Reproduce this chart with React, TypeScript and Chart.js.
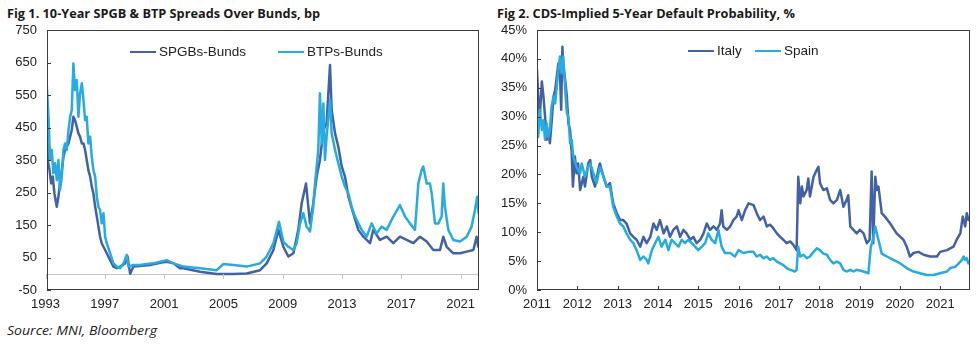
import React, { useEffect, useLayoutEffect, useRef } from "react";
import { Chart, registerables } from "chart.js";

Chart.register(...registerables);

const DARK = "#4262A8";
const LIGHT = "#26ABE2";

// ---------- Fig 1: 10-Year spreads over Bunds, bp ----------
const fig1XTicks = [1993, 1997, 2001, 2005, 2009, 2013, 2017, 2021];
const fig1YTicks = [-50, 50, 150, 250, 350, 450, 550, 650, 750];

const spgbYears = [
  1993.09, 1993.15, 1993.27, 1993.38, 1993.49, 1993.6, 1993.76, 1993.87, 1993.98, 1994.1,
  1994.21, 1994.32, 1994.43, 1994.55, 1994.66, 1994.77, 1994.88, 1994.99, 1995.11, 1995.22,
  1995.33, 1995.45, 1995.56, 1995.67, 1995.78, 1995.89, 1996.01, 1996.12, 1996.23, 1996.35,
  1996.46, 1996.57, 1996.68, 1996.79, 1996.91, 1997.13, 1997.36, 1997.58, 1997.81, 1998.03,
  1998.37, 1998.53, 1998.71, 1998.93, 1999.38, 2000.05, 2000.73, 2001.18, 2001.63, 2002.07,
  2002.3, 2003.43, 2004.55, 2005.67, 2006.57, 2007.47, 2007.92, 2008.37, 2008.71, 2009.04,
  2009.38, 2009.72, 2010.05, 2010.28, 2010.57, 2010.84, 2011.06, 2011.29, 2011.51, 2011.74,
  2011.96, 2012.19, 2012.3, 2012.53, 2012.75, 2012.98, 2013.2, 2013.43, 2013.76, 2014.1,
  2014.44, 2014.89, 2015.11, 2015.56, 2016.01, 2016.46, 2016.91, 2017.36, 2017.81, 2018.26,
  2018.71, 2019.16, 2019.61, 2019.83, 2020.06, 2020.51, 2020.96, 2021.41, 2021.86, 2022.08,
  2022.19,
];
const spgbValues = [
  535, 350, 319, 278, 299, 247, 206, 237, 278, 319,
  360, 381, 391, 401, 422, 442, 483, 473, 452, 432,
  422, 401, 401, 381, 350, 319, 299, 268, 247, 206,
  176, 145, 114, 94, 83, 63, 42, 22, 17, 22,
  32, 53, 0, 22, 24, 27, 34, 37, 32, 17,
  17, 6, -1, -1, 1, 11, 32, 73, 135, 83,
  53, 63, 135, 217, 278, 155, 217, 299, 350, 442,
  463, 642, 504, 432, 391, 330, 299, 237, 186, 135,
  114, 94, 135, 104, 114, 94, 114, 104, 94, 114,
  99, 73, 73, 114, 83, 63, 63, 68, 73, 114,
  83,
];

const btpYears = [
  1993.09, 1993.2, 1993.31, 1993.42, 1993.53, 1993.65, 1993.76, 1993.87, 1993.98, 1994.1,
  1994.21, 1994.32, 1994.43, 1994.55, 1994.66, 1994.77, 1994.88, 1994.99, 1995.11, 1995.22,
  1995.33, 1995.45, 1995.56, 1995.67, 1995.78, 1995.89, 1996.01, 1996.12, 1996.23, 1996.35,
  1996.46, 1996.57, 1996.68, 1996.79, 1996.91, 1997.02, 1997.13, 1997.36, 1997.58, 1997.81,
  1998.03, 1998.26, 1998.48, 1998.59, 1998.93, 1999.38, 1999.83, 2000.28, 2000.73, 2001.18,
  2001.63, 2002.3, 2003.43, 2004.55, 2005.0, 2005.67, 2006.57, 2007.47, 2007.92, 2008.37,
  2008.75, 2009.04, 2009.38, 2009.72, 2009.94, 2010.17, 2010.39, 2010.61, 2010.84, 2011.06,
  2011.18, 2011.4, 2011.51, 2011.63, 2011.74, 2011.85, 2011.96, 2012.08, 2012.19, 2012.3,
  2012.53, 2012.75, 2012.98, 2013.2, 2013.43, 2013.65, 2013.88, 2014.1, 2014.33, 2014.66,
  2015.0, 2015.33, 2015.67, 2016.01, 2016.23, 2016.46, 2016.91, 2017.25, 2017.58, 2017.92,
  2018.15, 2018.37, 2018.48, 2018.71, 2018.93, 2019.05, 2019.27, 2019.5, 2019.72, 2019.83,
  2019.94, 2020.17, 2020.51, 2020.96, 2021.41, 2021.74, 2021.97, 2022.12, 2022.21,
];
const btpValues = [
  576, 483, 350, 381, 309, 340, 288, 350, 258, 299,
  381, 401, 381, 442, 483, 504, 647, 565, 596, 483,
  555, 586, 535, 473, 483, 401, 422, 360, 319, 299,
  237, 206, 196, 155, 186, 114, 94, 63, 32, 22,
  17, 32, 58, 22, 27, 27, 30, 32, 37, 42,
  32, 22, 17, 11, 30, 27, 22, 32, 53, 94,
  160, 99, 83, 73, 94, 155, 186, 145, 130, 206,
  278, 381, 555, 401, 524, 350, 422, 480, 535, 432,
  381, 340, 299, 268, 247, 206, 176, 155, 135, 114,
  155, 124, 145, 135, 155, 176, 211, 176, 155, 135,
  278, 319, 330, 278, 278, 247, 155, 155, 176, 278,
  206, 135, 104, 99, 114, 145, 196, 237, 186,
];

// ---------- Fig 2: CDS-implied 5-year default probability, % ----------
const fig2XTicks = [2011, 2012, 2013, 2014, 2015, 2016, 2017, 2018, 2019, 2020, 2021];
const fig2YTicks = [0, 5, 10, 15, 20, 25, 30, 35, 40, 45];

const italyYears = [
  2011.0, 2011.03, 2011.07, 2011.12, 2011.16, 2011.2, 2011.24, 2011.28, 2011.32, 2011.36,
  2011.41, 2011.45, 2011.49, 2011.53, 2011.57, 2011.6, 2011.63, 2011.65, 2011.69, 2011.74,
  2011.78, 2011.82, 2011.86, 2011.89, 2011.94, 2011.98, 2012.02, 2012.07, 2012.15, 2012.19,
  2012.27, 2012.32, 2012.36, 2012.44, 2012.52, 2012.56, 2012.65, 2012.73, 2012.81, 2012.89,
  2012.98, 2013.06, 2013.14, 2013.22, 2013.31, 2013.39, 2013.47, 2013.56, 2013.64, 2013.72,
  2013.81, 2013.89, 2013.97, 2014.05, 2014.14, 2014.22, 2014.3, 2014.38, 2014.47, 2014.55,
  2014.63, 2014.71, 2014.8, 2014.88, 2014.96, 2015.05, 2015.13, 2015.21, 2015.29, 2015.38,
  2015.46, 2015.54, 2015.58, 2015.62, 2015.71, 2015.79, 2015.87, 2015.95, 2016.0, 2016.08,
  2016.16, 2016.25, 2016.37, 2016.45, 2016.53, 2016.62, 2016.7, 2016.78, 2016.86, 2016.95,
  2017.03, 2017.11, 2017.19, 2017.28, 2017.36, 2017.44, 2017.48, 2017.53, 2017.57, 2017.61,
  2017.69, 2017.73, 2017.77, 2017.86, 2017.94, 2017.98, 2018.02, 2018.1, 2018.19, 2018.27,
  2018.35, 2018.44, 2018.52, 2018.6, 2018.68, 2018.72, 2018.77, 2018.85, 2018.93, 2019.01,
  2019.1, 2019.18, 2019.25, 2019.3, 2019.34, 2019.39, 2019.43, 2019.47, 2019.51, 2019.55,
  2019.63, 2019.76, 2019.92, 2020.09, 2020.17, 2020.25, 2020.34, 2020.46, 2020.59, 2020.75,
  2020.92, 2021.0, 2021.17, 2021.33, 2021.41, 2021.5, 2021.56, 2021.62, 2021.66, 2021.7,
];
const italyValues = [
  38.1, 33.5, 30.0, 36.1, 33.5, 30.0, 26.0, 27.7, 25.4, 28.8,
  33.5, 34.6, 36.9, 39.2, 37.5, 31.2, 42.1, 39.2, 36.9, 33.5,
  28.8, 27.7, 23.7, 17.9, 23.1, 20.2, 21.9, 17.3, 19.6, 17.9,
  21.9, 22.5, 19.6, 17.9, 20.8, 21.9, 19.6, 17.9, 18.5, 15.0,
  13.3, 12.1, 12.1, 11.5, 9.8, 9.2, 8.7, 7.5, 9.2, 8.1,
  9.2, 11.5, 10.4, 12.1, 9.8, 11.0, 9.2, 10.4, 11.0, 9.2,
  10.4, 9.8, 8.7, 9.2, 8.1, 8.7, 9.8, 11.5, 10.4, 11.0,
  10.4, 11.5, 13.8, 11.0, 10.4, 11.0, 12.1, 12.7, 13.8, 12.1,
  13.8, 15.0, 14.7, 13.3, 12.1, 12.7, 11.0, 11.3, 10.7, 9.8,
  9.2, 8.7, 8.1, 8.4, 7.8, 6.9, 19.6, 15.0, 17.9, 16.2,
  17.3, 19.3, 16.2, 19.6, 20.8, 21.3, 18.5, 17.3, 17.6, 15.6,
  15.0, 15.6, 17.3, 14.4, 15.6, 16.4, 11.0, 10.4, 9.8, 10.4,
  9.8, 8.1, 8.7, 20.5, 8.1, 19.6, 17.3, 17.9, 15.6, 13.3,
  12.7, 11.5, 9.8, 8.7, 7.5, 5.8, 6.4, 6.6, 6.1, 5.8,
  5.8, 6.6, 6.9, 7.5, 8.7, 9.8, 12.7, 11.0, 13.3, 12.1,
];

const spainYears = [
  2011.0, 2011.03, 2011.07, 2011.12, 2011.16, 2011.2, 2011.24, 2011.28, 2011.32, 2011.36,
  2011.41, 2011.45, 2011.49, 2011.53, 2011.57, 2011.61, 2011.65, 2011.69, 2011.74, 2011.78,
  2011.82, 2011.86, 2011.9, 2011.98, 2012.07, 2012.11, 2012.19, 2012.27, 2012.32, 2012.4,
  2012.48, 2012.56, 2012.65, 2012.73, 2012.81, 2012.89, 2012.98, 2013.06, 2013.14, 2013.22,
  2013.31, 2013.39, 2013.47, 2013.56, 2013.64, 2013.72, 2013.76, 2013.85, 2013.93, 2014.01,
  2014.09, 2014.18, 2014.26, 2014.34, 2014.42, 2014.51, 2014.59, 2014.67, 2014.75, 2014.84,
  2014.92, 2015.0, 2015.09, 2015.17, 2015.25, 2015.33, 2015.42, 2015.5, 2015.58, 2015.66,
  2015.79, 2015.91, 2016.0, 2016.12, 2016.25, 2016.37, 2016.45, 2016.53, 2016.62, 2016.7,
  2016.78, 2016.86, 2016.95, 2017.03, 2017.11, 2017.19, 2017.28, 2017.4, 2017.44, 2017.48,
  2017.53, 2017.61, 2017.69, 2017.77, 2017.86, 2017.94, 2018.02, 2018.1, 2018.19, 2018.27,
  2018.35, 2018.44, 2018.52, 2018.6, 2018.68, 2018.77, 2018.85, 2018.93, 2019.1, 2019.22,
  2019.28, 2019.33, 2019.39, 2019.43, 2019.51, 2019.55, 2019.68, 2019.84, 2020.01, 2020.17,
  2020.34, 2020.5, 2020.67, 2020.83, 2021.0, 2021.17, 2021.25, 2021.37, 2021.46, 2021.54,
  2021.58, 2021.62, 2021.66, 2021.7,
];
const spainValues = [
  28.8, 26.5, 31.2, 27.7, 29.4, 26.0, 28.8, 26.5, 27.7, 31.7,
  33.5, 32.3, 35.2, 38.1, 40.4, 37.5, 40.4, 35.8, 30.6, 30.0,
  25.4, 26.0, 23.1, 21.3, 20.2, 21.9, 19.6, 21.3, 21.9, 20.2,
  18.5, 21.3, 19.6, 17.9, 17.9, 14.4, 12.7, 11.5, 11.0, 9.8,
  8.7, 8.1, 6.9, 5.2, 5.8, 5.2, 4.6, 6.9, 8.1, 9.2,
  7.5, 8.7, 6.9, 8.7, 8.1, 7.5, 8.7, 8.1, 8.7, 8.1,
  7.5, 6.9, 7.5, 8.1, 9.8, 8.7, 8.1, 10.4, 7.5, 6.4,
  6.4, 5.8, 6.9, 6.4, 6.6, 6.6, 5.8, 6.1, 5.5, 5.8,
  5.2, 5.5, 4.9, 4.6, 4.3, 3.8, 3.5, 3.2, 3.5, 7.5,
  5.8, 6.1, 5.5, 5.8, 6.6, 7.2, 6.9, 6.3, 6.1, 5.2,
  4.6, 4.9, 4.6, 3.5, 3.2, 3.5, 3.2, 3.5, 3.2, 2.9,
  7.5, 8.7, 11.0, 9.8, 7.5, 6.3, 5.8, 5.2, 4.6, 3.8,
  3.2, 2.9, 2.6, 2.6, 2.9, 3.2, 3.8, 4.0, 4.6, 5.2,
  5.8, 5.2, 5.5, 4.6,
];

const TICK_FONT = { family: "'Liberation Sans', Arial, sans-serif", size: 13 };

function toPoints(xs: number[], ys: number[]) {
  return xs.map((x, i) => ({ x, y: ys[i] }));
}

function framePlugin(mode: "zero" | "bottom") {
  return {
    id: "frame",
    beforeDatasetsDraw(chart: any) {
      if (mode !== "zero") return;
      const { ctx, chartArea: a } = chart;
      const y = Math.round(chart.scales.y.getPixelForValue(0)) + 0.5;
      ctx.save();
      ctx.strokeStyle = "#C4C4C4";
      ctx.lineWidth = 1;
      ctx.beginPath();
      ctx.moveTo(a.left, y);
      ctx.lineTo(a.right, y);
      ctx.stroke();
      ctx.restore();
    },
    afterDraw(chart: any) {
      const { ctx, chartArea: a } = chart;
      const xs = chart.scales.x;
      const ys = chart.scales.y;
      ctx.save();
      ctx.strokeStyle = "#3C3C3C";
      ctx.lineWidth = 1;
      ctx.strokeRect(a.left + 0.5, a.top + 0.5, a.right - a.left - 1, a.bottom - a.top - 1);
      ctx.beginPath();
      ys.ticks.forEach((t: any) => {
        const py = Math.round(ys.getPixelForValue(t.value)) + 0.5;
        ctx.moveTo(a.left, py);
        ctx.lineTo(a.left + 4, py);
      });
      ctx.stroke();
      if (mode === "zero") {
        ctx.strokeStyle = "#C4C4C4";
        const base = Math.round(ys.getPixelForValue(0));
        ctx.beginPath();
        xs.ticks.forEach((t: any) => {
          const px = Math.round(xs.getPixelForValue(t.value)) + 0.5;
          ctx.moveTo(px, base);
          ctx.lineTo(px, base + 5);
        });
        ctx.stroke();
      } else {
        ctx.beginPath();
        xs.ticks.forEach((t: any) => {
          const px = Math.round(xs.getPixelForValue(t.value)) + 0.5;
          ctx.moveTo(px, a.bottom);
          ctx.lineTo(px, a.bottom - 4);
        });
        ctx.stroke();
      }
      ctx.restore();
    },
  };
}

function makeConfig(opts: {
  datasets: any[];
  xMin: number;
  xMax: number;
  xTicks: number[];
  yTicks: number[];
  ySuffix: string;
  padRight: number;
  mode: "zero" | "bottom";
}): any {
  return {
    type: "line",
    data: { datasets: opts.datasets },
    plugins: [framePlugin(opts.mode)],
    options: {
      animation: false,
      responsive: false,
      maintainAspectRatio: false,
      events: [],
      layout: { padding: { top: 30, right: opts.padRight, left: 0, bottom: 0 } },
      plugins: { legend: { display: false }, tooltip: { enabled: false }, title: { display: false } },
      elements: {
        point: { radius: 0 },
        line: { tension: 0, borderWidth: 2.5, borderJoinStyle: "round", borderCapStyle: "round" },
      },
      scales: {
        x: {
          type: "linear",
          min: opts.xMin,
          max: opts.xMax,
          grid: { display: false, drawTicks: false },
          border: { display: false },
          ticks: {
            font: TICK_FONT,
            color: "#222",
            padding: 7,
            maxRotation: 0,
            autoSkip: false,
            callback: (v: any) => String(v),
          },
          afterBuildTicks: (s: any) => {
            s.ticks = opts.xTicks.map((v) => ({ value: v }));
          },
          afterFit: (s: any) => {
            s.height = 22;
          },
        },
        y: {
          type: "linear",
          min: opts.yTicks[0],
          max: opts.yTicks[opts.yTicks.length - 1],
          grid: { display: false, drawTicks: false },
          border: { display: false },
          ticks: {
            font: TICK_FONT,
            color: "#222",
            padding: 10,
            autoSkip: false,
            callback: (v: any) => String(v) + opts.ySuffix,
          },
          afterBuildTicks: (s: any) => {
            s.ticks = opts.yTicks.map((v) => ({ value: v }));
          },
          afterFit: (s: any) => {
            s.width = 47;
          },
        },
      },
    },
  };
}

function ChartBox({ left, config }: { left: number; config: any }) {
  const ref = useRef<HTMLCanvasElement>(null);
  useEffect(() => {
    if (!ref.current) return;
    const chart = new Chart(ref.current, config);
    return () => chart.destroy();
  }, [config]);
  return (
    <canvas
      ref={ref}
      width={490}
      height={312}
      style={{ position: "absolute", left, top: 0, width: 490, height: 312 }}
    />
  );
}

function FitText({
  text,
  left,
  top,
  width,
  style,
}: {
  text: string;
  left: number;
  top: number;
  width: number;
  style: React.CSSProperties;
}) {
  const ref = useRef<HTMLSpanElement>(null);
  useLayoutEffect(() => {
    const fit = () => {
      const el = ref.current;
      if (!el) return;
      el.style.transform = "none";
      const w = el.getBoundingClientRect().width;
      if (w > 0) el.style.transform = `scaleX(${width / w})`;
    };
    fit();
    if ((document as any).fonts && (document as any).fonts.ready) {
      (document as any).fonts.ready.then(fit);
    }
  }, [text, width]);
  return (
    <span
      ref={ref}
      style={{
        position: "absolute",
        left,
        top,
        whiteSpace: "nowrap",
        transformOrigin: "0 0",
        lineHeight: 1,
        ...style,
      }}
    >
      {text}
    </span>
  );
}

function LegendItem({ left, top, color, label }: { left: number; top: number; color: string; label: string }) {
  return (
    <>
      <div style={{ position: "absolute", left, top: top - 1, width: 26, height: 2, background: color }} />
      <span
        style={{
          position: "absolute",
          left: left + 29,
          top: top - 8,
          fontFamily: "'Liberation Sans', Arial, sans-serif",
          fontSize: 13.5,
          lineHeight: "16px",
          color: "#222",
          whiteSpace: "nowrap",
        }}
      >
        {label}
      </span>
    </>
  );
}

const config1 = makeConfig({
  datasets: [
    { label: "BTPs-Bunds", data: toPoints(btpYears, btpValues), borderColor: LIGHT, backgroundColor: LIGHT },
    { label: "SPGBs-Bunds", data: toPoints(spgbYears, spgbValues), borderColor: DARK, backgroundColor: DARK },
  ],
  xMin: 1993.1,
  xMax: 2022.24,
  xTicks: fig1XTicks,
  yTicks: fig1YTicks,
  ySuffix: "",
  padRight: 11,
  mode: "zero",
});

const config2 = makeConfig({
  datasets: [
    { label: "Spain", data: toPoints(spainYears, spainValues), borderColor: LIGHT, backgroundColor: LIGHT },
    { label: "Italy", data: toPoints(italyYears, italyValues), borderColor: DARK, backgroundColor: DARK },
  ],
  xMin: 2011,
  xMax: 2021.74,
  xTicks: fig2XTicks,
  yTicks: fig2YTicks,
  ySuffix: "%",
  padRight: 10,
  mode: "bottom",
});

export default function App() {
  const titleStyle: React.CSSProperties = {
    fontFamily: "'Open Sans', 'Noto Sans', sans-serif",
    fontWeight: 700,
    fontSize: 13,
    color: "#1a1a1a",
  };
  return (
    <div style={{ position: "absolute", left: 0, top: 0, width: 980, height: 349, background: "#fff", overflow: "hidden" }}>
      <FitText text="Fig 1. 10-Year SPGB & BTP Spreads Over Bunds, bp" left={7} top={7} width={313} style={titleStyle} />
      <FitText text="Fig 2. CDS-Implied 5-Year Default Probability, %" left={497} top={7} width={298} style={titleStyle} />
      <ChartBox left={0} config={config1} />
      <ChartBox left={490} config={config2} />
      <LegendItem left={130} top={52} color={DARK} label="SPGBs-Bunds" />
      <LegendItem left={278} top={52} color={LIGHT} label="BTPs-Bunds" />
      <LegendItem left={688} top={51} color={DARK} label="Italy" />
      <LegendItem left={755} top={51} color={LIGHT} label="Spain" />
      <FitText
        text="Source: MNI, Bloomberg"
        left={7}
        top={325}
        width={150}
        style={{ fontFamily: "'Open Sans', 'Noto Sans', sans-serif", fontStyle: "italic", fontSize: 12.5, color: "#222" }}
      />
    </div>
  );
}
